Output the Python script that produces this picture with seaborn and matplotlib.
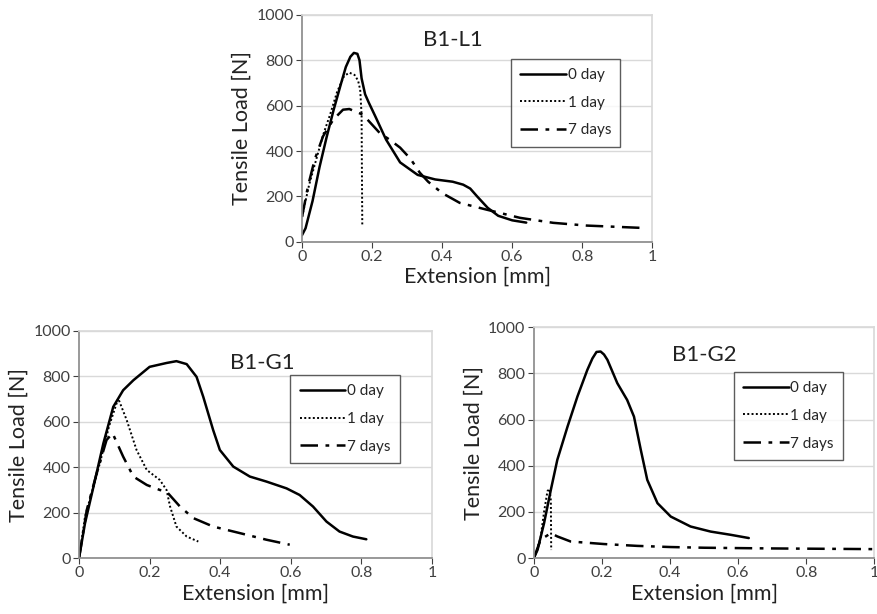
import numpy as np
import pandas as pd
import matplotlib
matplotlib.use("Agg")
import matplotlib.pyplot as plt
import seaborn as sns
from matplotlib.lines import Line2D

# B1-L1
l1_x0 = [0, 0.01, 0.03, 0.05, 0.07, 0.09, 0.11, 0.125, 0.138, 0.148, 0.158, 0.164, 0.17, 0.18, 0.19,
         0.21, 0.24, 0.28, 0.33, 0.38, 0.43, 0.46, 0.48, 0.5, 0.53, 0.56, 0.6, 0.64]
l1_y0 = [30, 60, 180, 330, 460, 580, 690, 770, 815, 832, 828, 800, 720, 650, 615,
         550, 450, 350, 295, 275, 265, 252, 235, 200, 150, 115, 95, 85]
l1_x1 = [0, 0.02, 0.04, 0.06, 0.08, 0.1, 0.12, 0.135, 0.15, 0.16, 0.166, 0.17, 0.171, 0.172]
l1_y1 = [110, 250, 360, 470, 560, 660, 730, 745, 735, 710, 670, 560, 300, 70]
l1_x7 = [0, 0.017, 0.036, 0.06, 0.089, 0.117, 0.135, 0.174, 0.222, 0.25, 0.28, 0.31, 0.336, 0.36,
         0.4, 0.45, 0.527, 0.622, 0.717, 0.812, 0.965]
l1_y7 = [110, 245, 362, 465, 538, 582, 585, 560, 479, 450, 415, 365, 305, 265,
         215, 172, 142, 106, 84, 72, 62]

# B1-G1
g1_x0 = [0, 0.017, 0.041, 0.069, 0.097, 0.125, 0.154, 0.2, 0.248, 0.276, 0.305, 0.333, 0.352,
         0.38, 0.399, 0.437, 0.484, 0.531, 0.588, 0.625, 0.663, 0.701, 0.738, 0.776, 0.814]
g1_y0 = [0, 154, 315, 505, 666, 739, 783, 842, 859, 867, 854, 798, 710,
         564, 476, 403, 359, 337, 307, 278, 227, 161, 117, 95, 83]
g1_x1 = [0, 0.017, 0.04, 0.059, 0.085, 0.111, 0.135, 0.163, 0.192, 0.229, 0.248, 0.258, 0.276,
         0.305, 0.338]
g1_y1 = [0, 183, 310, 417, 580, 703, 608, 476, 388, 344, 300, 227, 139, 95, 73]
g1_x7 = [0, 0.022, 0.05, 0.078, 0.095, 0.125, 0.154, 0.192, 0.229, 0.248, 0.286, 0.324, 0.38,
         0.456, 0.531, 0.597]
g1_y7 = [0, 212, 373, 520, 550, 447, 359, 322, 300, 293, 227, 176, 139, 110, 81, 59]

# B1-G2
g2_x0 = [0, 0.011, 0.03, 0.05, 0.069, 0.099, 0.128, 0.157, 0.172, 0.184, 0.196, 0.206, 0.216,
         0.245, 0.274, 0.294, 0.314, 0.333, 0.363, 0.402, 0.46, 0.519, 0.578, 0.631]
g2_y0 = [0, 36, 151, 296, 426, 570, 700, 815, 865, 893, 895, 882, 859,
         758, 685, 613, 469, 339, 238, 180, 137, 115, 101, 87]
g2_x1 = [0, 0.01, 0.02, 0.03, 0.04, 0.046, 0.05, 0.051]
g2_y1 = [0, 40, 90, 200, 290, 300, 250, 35]
g2_x7 = [0, 0.02, 0.05, 0.069, 0.108, 0.206, 0.304, 0.402, 0.5, 0.695, 0.998]
g2_y7 = [0, 80, 108, 94, 72, 61, 53, 48, 45, 42, 39]

labels = ["0 day", "1 day", "7 days"]
titles = ["B1-L1", "B1-G1", "B1-G2"]

sns.set_theme(style="white")
plt.rcParams["font.family"] = ["Lato", "DejaVu Sans"]

styles = [dict(linestyle="-", linewidth=1.8),
          dict(linestyle=(0, (1, 1.2)), linewidth=1.4),
          dict(linestyle=(0, (7, 3, 1.5, 3)), linewidth=1.8)]

fig = plt.figure(figsize=(8.78, 6.14), dpi=100)
ax_l1 = fig.add_axes([0.344, 0.606, 0.399, 0.370])
ax_g1 = fig.add_axes([0.090, 0.091, 0.402, 0.370])
ax_g2 = fig.add_axes([0.608, 0.091, 0.388, 0.376])

panels = [
    (ax_l1, [(l1_x0, l1_y0), (l1_x1, l1_y1), (l1_x7, l1_y7)], (0.43, 890)),
    (ax_g1, [(g1_x0, g1_y0), (g1_x1, g1_y1), (g1_x7, g1_y7)], (0.52, 860)),
    (ax_g2, [(g2_x0, g2_y0), (g2_x1, g2_y1), (g2_x7, g2_y7)], (0.50, 880)),
]

for (ax, series, tpos), title in zip(panels, titles):
    for (xs, ys), st in zip(series, styles):
        sns.lineplot(x=xs, y=ys, ax=ax, color="black", sort=False, estimator=None, **st)
    ax.set_xlim(0, 1)
    ax.set_ylim(0, 1000)
    ax.set_xticks(np.arange(0, 1.01, 0.2))
    ax.set_xticklabels(["0", "0.2", "0.4", "0.6", "0.8", "1"])
    ax.set_yticks(np.arange(0, 1001, 200))
    ax.yaxis.grid(True, color="#d9d9d9", linewidth=1)
    ax.xaxis.grid(False)
    ax.tick_params(axis="both", labelsize=11.5, colors="#404040", length=4, width=0.8,
                   direction="out", bottom=True, left=True, pad=2)
    for side in ["left", "bottom"]:
        ax.spines[side].set_color("#8c8c8c")
    for side in ["top", "right"]:
        ax.spines[side].set_color("#d9d9d9")
    ax.set_xlabel("Extension [mm]", fontsize=15.5, color="#222222", labelpad=2)
    ax.set_ylabel("Tensile Load [N]", fontsize=15.5, color="#222222", labelpad=3)
    ax.text(tpos[0], tpos[1], title, fontsize=16, color="#222222", ha="center", va="center")
    handles = [Line2D([0], [0], color="black", **st) for st in styles]
    leg = ax.legend(handles, labels, loc="upper right", bbox_to_anchor=(0.93, 0.84),
                    fontsize=11, handlelength=3.0, handletextpad=0.1, labelspacing=0.9,
                    frameon=True, fancybox=False, borderpad=0.6)
    leg.get_frame().set_edgecolor("#333333")
    leg.get_frame().set_linewidth(1.0)

fig.savefig("out.png", dpi=100)
